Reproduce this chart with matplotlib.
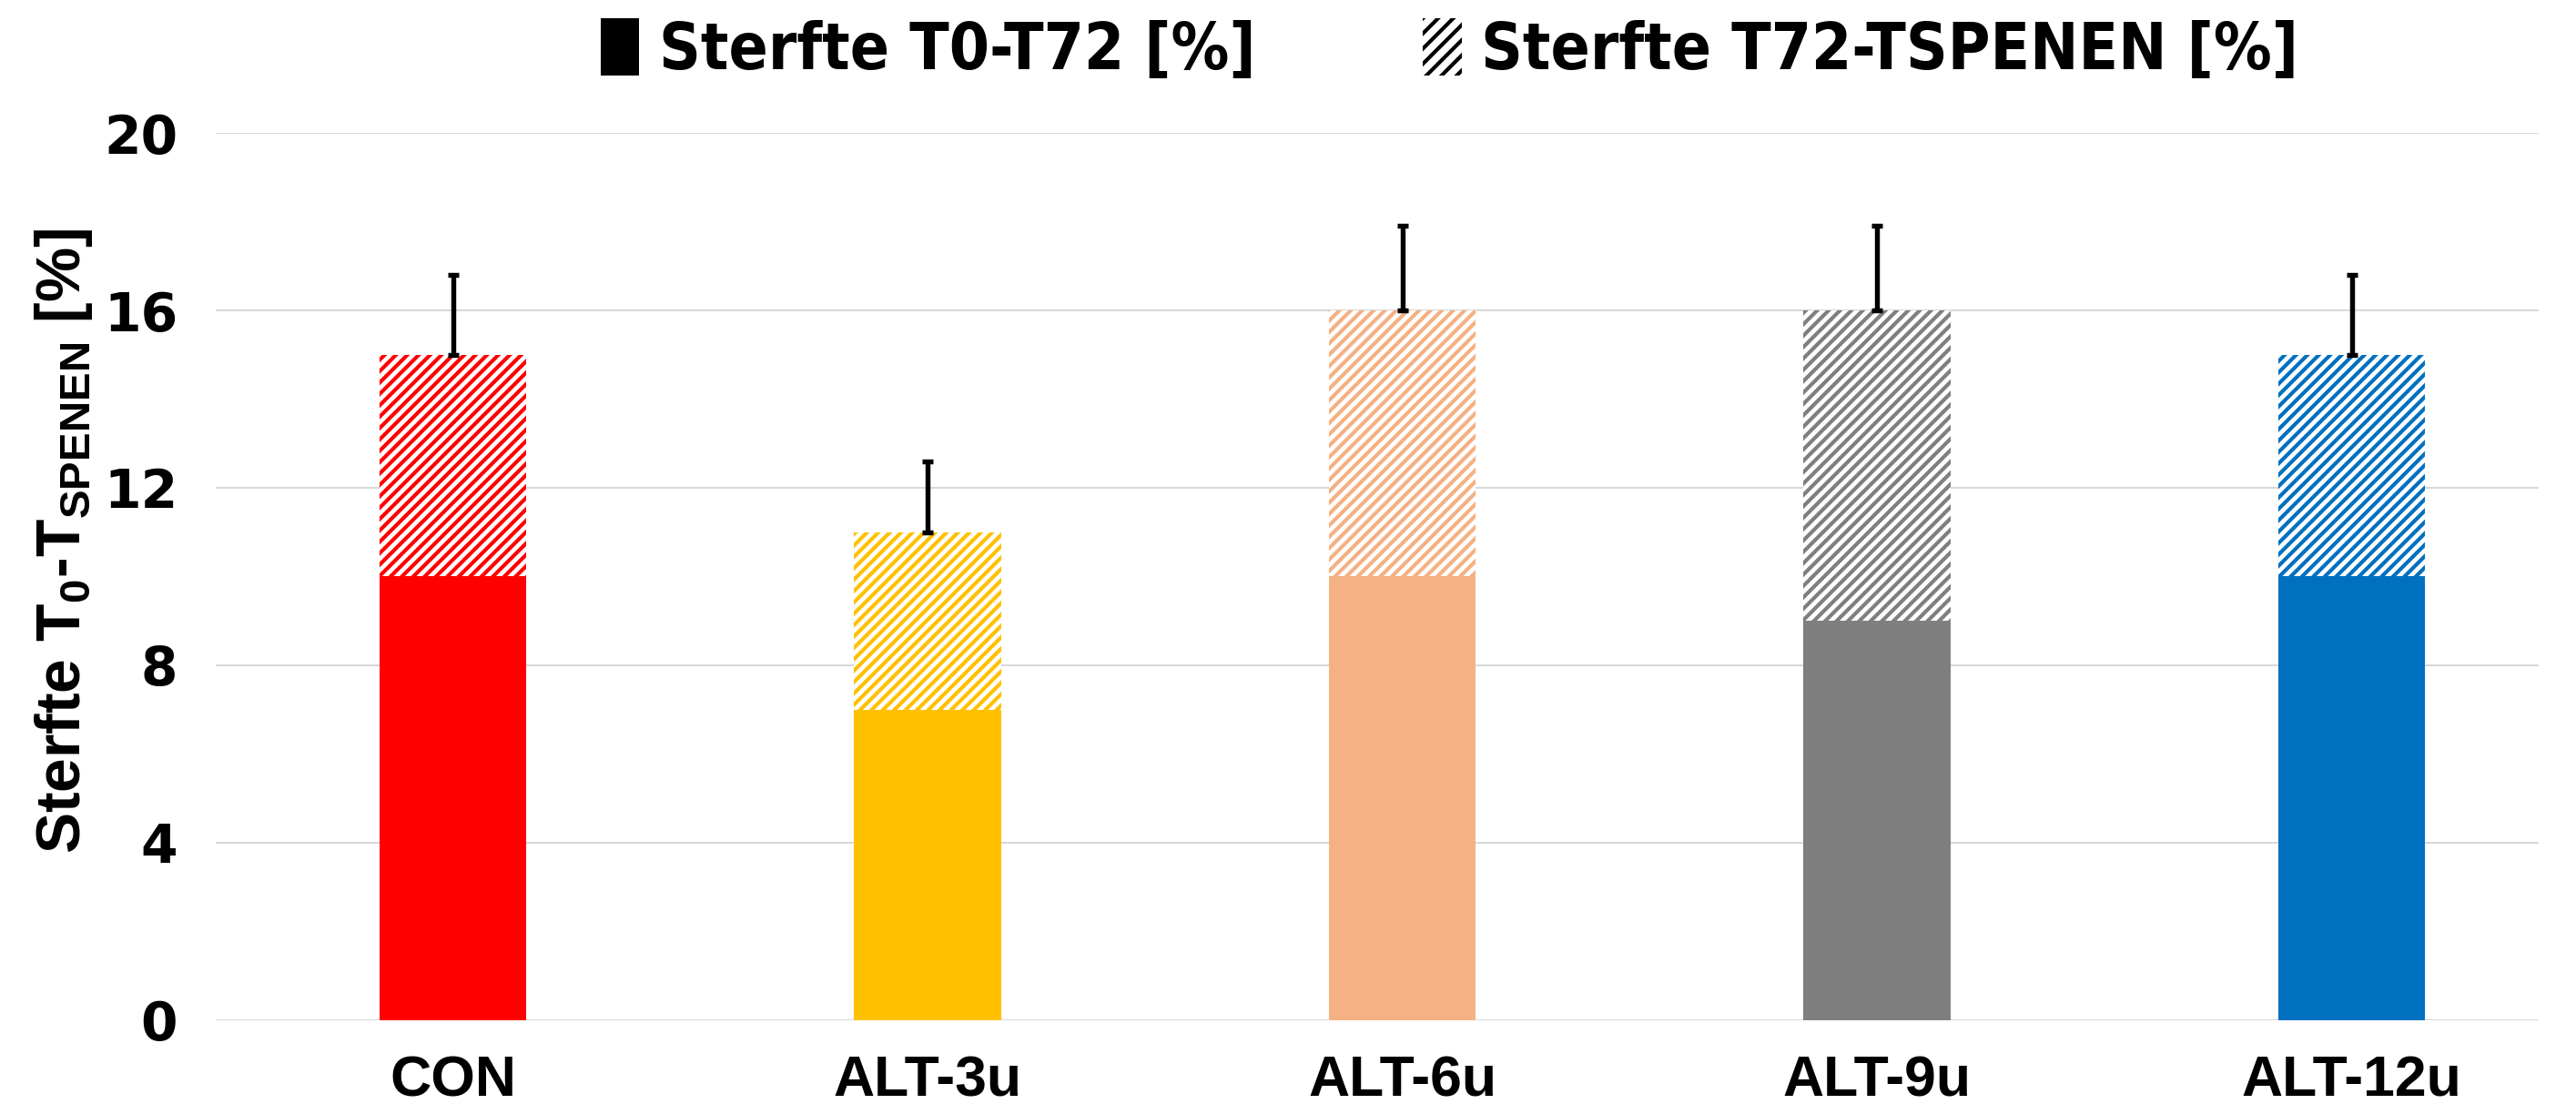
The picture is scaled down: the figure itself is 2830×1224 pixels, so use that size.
import numpy as np
import matplotlib
matplotlib.use('Agg')
import matplotlib.pyplot as plt
from matplotlib.patches import Patch

# Data
groups = ['CON', 'ALT-3u', 'ALT-6u', 'ALT-9u', 'ALT-12u']
sterfte_t0_t72 = [10, 7, 10, 9, 10]
sterfte_t72_spenen = [5, 4, 6, 7, 5]
err_total = [1.8, 1.6, 1.9, 1.9, 1.8]
colors = ['#FF0000', '#FFC000', '#F4B183', '#7F7F7F', '#0070C0']

plt.rcParams['hatch.linewidth'] = 2.0
plt.rcParams['mathtext.fontset'] = 'custom'
plt.rcParams['mathtext.bf'] = 'Liberation Sans:bold'
plt.rcParams['mathtext.rm'] = 'Liberation Sans:bold'

dpi = 150
fig = plt.figure(figsize=(2830 / dpi, 1224 / dpi), dpi=dpi)
ax = fig.add_axes([0.0837, 0.0842, 0.9018, 0.7965])

x = np.arange(len(groups))
width = 0.31
bottom = np.array(sterfte_t0_t72)
top = bottom + np.array(sterfte_t72_spenen)

ax.bar(x, sterfte_t0_t72, width, color=colors, linewidth=0, zorder=3)
ax.bar(x, sterfte_t72_spenen, width, bottom=bottom, facecolor='white',
       edgecolor=colors, linewidth=0, hatch='////', zorder=3)
ax.errorbar(x, top, yerr=[np.zeros(len(x)), err_total], fmt='none',
            ecolor='black', elinewidth=2.6, capsize=3, capthick=2.6, zorder=4)

ax.set_xlim(-0.5, 4.394)
ax.set_ylim(0, 20)
ax.set_yticks([0, 4, 8, 12, 16, 20])
ax.set_xticks(x)
ax.set_xticklabels(groups, fontsize=30, fontweight='bold', family='Liberation Sans')
for lab in ax.get_yticklabels():
    lab.set_fontsize(28)
    lab.set_fontweight('bold')
    lab.set_family('DejaVu Sans')
ax.tick_params(axis='both', length=0)
ax.tick_params(axis='y', pad=20)
ax.tick_params(axis='x', pad=18)

ax.grid(axis='y', color='#D9D9D9', linewidth=1.0, zorder=0)
ax.set_axisbelow(True)
for s in ax.spines.values():
    s.set_visible(False)

ax.set_ylabel(r'Sterfte T$_{\mathbf{0}}$-T$_{\mathbf{SPENEN}}$ [%]', fontsize=32.5,
              fontweight='bold', family='Liberation Sans')
ax.yaxis.set_label_coords(-0.052, 0.54)

handles = [Patch(facecolor='black', edgecolor='black', linewidth=0),
           Patch(facecolor='white', edgecolor='black', linewidth=0, hatch='///')]
fig.legend(handles, ['Sterfte T0-T72 [%]', 'Sterfte T72-TSPENEN [%]'],
           loc='center', bbox_to_anchor=(0.5627, 0.955), ncol=2, frameon=False,
           prop={'family': 'DejaVu Sans', 'stretch': 'condensed', 'weight': 'bold', 'size': 34},
           handlelength=0.6, handleheight=1.0, handletextpad=0.3, columnspacing=2.6)

fig.savefig('out.png', dpi=dpi)
